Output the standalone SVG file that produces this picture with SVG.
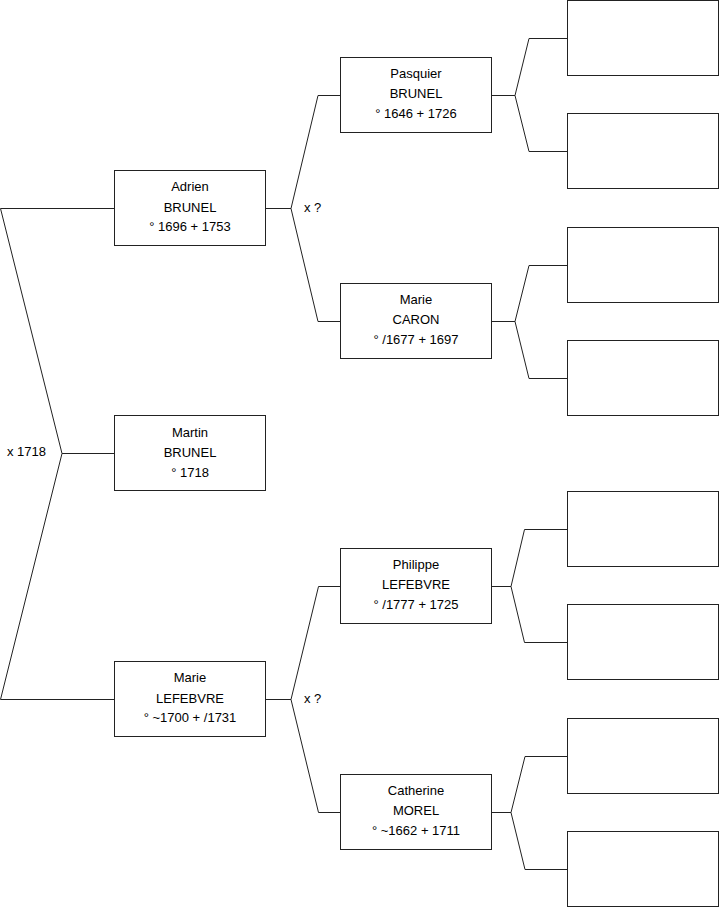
<svg xmlns="http://www.w3.org/2000/svg" width="719" height="908" viewBox="0 0 719 908">
<style>
.box{fill:#fff;stroke:#222;stroke-width:1}
.ln{fill:none;stroke:#222;stroke-width:1}
text{font-family:"Liberation Sans",Arial,sans-serif;font-size:13px;fill:#000}
.c{text-anchor:middle}
</style>
<rect width="719" height="908" fill="#fff"/>
<g id="connectors">
<polyline class="ln" points="114.5,208.5 0.5,208.5 62,453.5 0.5,699.5 114.5,699.5"/>
<line class="ln" x1="62" y1="453.5" x2="114.5" y2="453.5"/>
<polyline class="ln" points="340.5,95.5 318,95.5 291,208.5 318,321.5 340.5,321.5"/>
<line class="ln" x1="265.5" y1="208.5" x2="291" y2="208.5"/>
<polyline class="ln" points="340.5,586.5 318.5,586.5 291,699.5 318.5,812.5 340.5,812.5"/>
<line class="ln" x1="265.5" y1="699.5" x2="291" y2="699.5"/>
<polyline class="ln" points="567.5,38.5 529,38.5 515,95.5 529,151.5 567.5,151.5"/>
<line class="ln" x1="491.5" y1="95.5" x2="515" y2="95.5"/>
<polyline class="ln" points="567.5,265.5 529,265.5 515,321.5 529,378.5 567.5,378.5"/>
<line class="ln" x1="491.5" y1="321.5" x2="515" y2="321.5"/>
<polyline class="ln" points="567.5,529.5 524.5,529.5 511,586.5 524.5,642.5 567.5,642.5"/>
<line class="ln" x1="491.5" y1="586.5" x2="511" y2="586.5"/>
<polyline class="ln" points="567.5,756.5 525,756.5 511,812.5 525,869.5 567.5,869.5"/>
<line class="ln" x1="491.5" y1="812.5" x2="511" y2="812.5"/>
</g>
<g id="labels">
<text x="7" y="456">x 1718</text>
<text x="304" y="212">x ?</text>
<text x="304" y="703">x ?</text>
</g>
<g id="adrien">
<rect class="box" x="114.5" y="170.5" width="151" height="75"/>
<text class="c" x="190" y="191">Adrien</text>
<text class="c" x="190" y="212">BRUNEL</text>
<text class="c" x="190" y="231">° 1696 + 1753</text>
</g>
<g id="martin">
<rect class="box" x="114.5" y="415.5" width="151" height="75"/>
<text class="c" x="190" y="437">Martin</text>
<text class="c" x="190" y="457">BRUNEL</text>
<text class="c" x="190" y="477">° 1718</text>
</g>
<g id="marie-lefebvre">
<rect class="box" x="114.5" y="661.5" width="151" height="75"/>
<text class="c" x="190" y="682">Marie</text>
<text class="c" x="190" y="703">LEFEBVRE</text>
<text class="c" x="190" y="722">° ~1700 + /1731</text>
</g>
<g id="pasquier">
<rect class="box" x="340.5" y="57.5" width="151" height="75"/>
<text class="c" x="416" y="78">Pasquier</text>
<text class="c" x="416" y="98">BRUNEL</text>
<text class="c" x="416" y="118">° 1646 + 1726</text>
</g>
<g id="marie-caron">
<rect class="box" x="340.5" y="283.5" width="151" height="75"/>
<text class="c" x="416" y="304">Marie</text>
<text class="c" x="416" y="324">CARON</text>
<text class="c" x="416" y="344">° /1677 + 1697</text>
</g>
<g id="philippe">
<rect class="box" x="340.5" y="548.5" width="151" height="75"/>
<text class="c" x="416" y="569">Philippe</text>
<text class="c" x="416" y="589">LEFEBVRE</text>
<text class="c" x="416" y="609">° /1777 + 1725</text>
</g>
<g id="catherine">
<rect class="box" x="340.5" y="774.5" width="151" height="75"/>
<text class="c" x="416" y="795">Catherine</text>
<text class="c" x="416" y="815">MOREL</text>
<text class="c" x="416" y="835">° ~1662 + 1711</text>
</g>
<g id="gp1"><rect class="box" x="567.5" y="0.5" width="151" height="75"/></g>
<g id="gp2"><rect class="box" x="567.5" y="113.5" width="151" height="75"/></g>
<g id="gp3"><rect class="box" x="567.5" y="227.5" width="151" height="75"/></g>
<g id="gp4"><rect class="box" x="567.5" y="340.5" width="151" height="75"/></g>
<g id="gp5"><rect class="box" x="567.5" y="491.5" width="151" height="75"/></g>
<g id="gp6"><rect class="box" x="567.5" y="604.5" width="151" height="75"/></g>
<g id="gp7"><rect class="box" x="567.5" y="718.5" width="151" height="75"/></g>
<g id="gp8"><rect class="box" x="567.5" y="831.5" width="151" height="75"/></g>
</svg>
